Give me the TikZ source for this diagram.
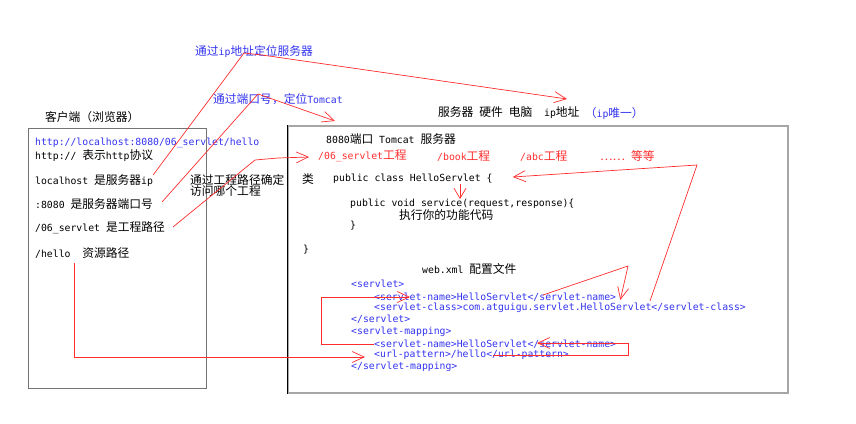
\documentclass[tikz,border=0pt]{standalone}
\usepackage{fontspec}
\setmonofont{DejaVu Sans Mono}
\newfontfamily\zhfont[Scale=1.2]{Noto Sans CJK SC}
\newcommand\zh[1]{{\zhfont #1}}
\usepackage{xcolor}
\usepackage{tikz}
\usetikzlibrary{arrows.meta, positioning}

\definecolor{linkblue}{RGB}{50,50,240}
\definecolor{markred}{RGB}{255,45,45}

\begin{document}
\begin{tikzpicture}[
    x=1pt, y=-1pt,
    font=\ttfamily\fontsize{9.8}{11.8}\selectfont,
    % Text line styling
    txt/.style={anchor=west, inner sep=0pt, text=black},
    blu/.style={txt, text=linkblue},
    rtxt/.style={txt, text=markred},
    % Frame styling
    panel/.style={draw=black!55, line width=1.2pt, anchor=north west, inner sep=0pt},
    % Red pointer styling
    pointer/.style={draw=markred, line width=0.7pt, -{Straight Barb[length=12pt,width=11pt]}},
    shortpointer/.style={pointer, -{Straight Barb[length=10pt,width=12pt]}}
]
\useasboundingbox (0,0) rectangle (856,423);

% ---------------------------------------------------
% 1. FRAMES
% ---------------------------------------------------
\node[panel, minimum width=178pt, minimum height=260pt] (client) at (28,128) {};
\node[panel, draw=black!35, line width=1.6pt, minimum width=500pt, minimum height=267pt] (server) at (287,125) {};
\draw[black, line width=0.8pt] (server.north west) -- (server.south west);

% ---------------------------------------------------
% 2. TEXTS (pixel grid, y grows downwards)
% ---------------------------------------------------

% Notes above
\node[txt] (clienttitle) at (45,117) {\zh{客户端（浏览器）}};
\node[blu] (ipnote) at (195,52) {\zh{通过}ip\zh{地址定位服务器}};
\node[blu] (portnote) at (213,99) {\zh{通过端口号，定位}Tomcat};
\node[txt] (hw) at (438,113) {\zh{服务器} \zh{硬件} \zh{电脑}\ \ ip\zh{地址}};
\node[blu, right=5pt of hw] (ipuniq) {\zh{（}ip\zh{唯一）}};

% Browser side
\node[blu] (url) at (35,143) {http://localhost:8080/06\_servlet/hello};
\node[txt] (proto) at (35,156) {http:// \zh{表示}http\zh{协议}};
\node[txt] (lhost) at (35,181) {localhost \zh{是服务器}ip};
\node[txt] (port) at (35,204) {:8080 \zh{是服务器端口号}};
\node[txt] (path) at (35,228) {/06\_servlet \zh{是工程路径}};
\node[txt] (hello) at (35,253) {/hello\ \ \zh{资源路径}};
\node[txt, align=left, font=\ttfamily\fontsize{9.8}{11}\selectfont] (projnote) at (190,185) {\zh{通过工程路径确定}\\\zh{访问哪个工程}};

% Server side
\node[txt] (tomcat) at (326,139) {8080\zh{端口} Tomcat \zh{服务器}};
\node[rtxt] (proj06) at (318,156) {/06\_servlet\zh{工程}};
\node[rtxt] (book) at (437,156) {/book\zh{工程}};
\node[rtxt] (abc) at (520,156) {/abc\zh{工程}};
\node[rtxt] (others) at (600,156) {\zh{……} \zh{等等}};

\node[txt] (clslabel) at (302,179) {\zh{类}};
\node[txt] (cls) at (333,179) {public class HelloServlet \{};
\node[txt] (svc) at (350,204) {public void service(request,response)\{};
\node[txt] (exec) at (399,215) {\zh{执行你的功能代码}};
\node[txt] (svcend) at (350,226) {\}};
\node[txt] (clsend) at (303,250) {\}};

\node[txt] (webxml) at (422,269) {web.xml \zh{配置文件}};
\node[blu] (servlet) at (351,284) {<servlet>};
\node[blu] (sname) at (374,297) {<servlet-name>HelloServlet</servlet-name>};
\node[blu] (sclass) at (374,308) {<servlet-class>com.atguigu.servlet.HelloServlet</servlet-class>};
\node[blu] (servletend) at (351,319) {</servlet>};
\node[blu] (mapping) at (351,332) {<servlet-mapping>};
\node[blu] (mapname) at (374,344) {<servlet-name>HelloServlet</servlet-name>};
\node[blu] (urlpat) at (374,355) {<url-pattern>/hello</url-pattern>};
\node[blu] (mappingend) at (351,367) {</servlet-mapping>};

% ---------------------------------------------------
% 3. RED POINTERS
% ---------------------------------------------------
\coordinate (ipbend) at (244,53);
\coordinate (ipbend2) at (262,55);
\coordinate (portbend) at (258,94);
\coordinate (pathbend) at (255,160);
\coordinate (pathbend2) at (278,158);
\coordinate (namebend) at (628,266);
\coordinate (classbend) at (697,165);
\coordinate (urlbend) at (628,355);

% ip -> server machine
\draw[pointer] (lhost.north east) -- (ipbend) -- (ipbend2) -- ([xshift=129pt,yshift=14pt]hw.west);

% port -> Tomcat
\draw[pointer] ([xshift=127pt,yshift=2pt]port.west) -- (portbend) -- ([xshift=48pt,yshift=4pt]server.north west);

% project path -> project
\draw[pointer] ([xshift=138pt,yshift=1pt]path.west) -- (pathbend) -- (pathbend2) -- ([xshift=-9pt,yshift=-1pt]proj06.west);

% resource path -> url-pattern
\draw[pointer] ([xshift=39pt,yshift=-10pt]hello.west) |- ([xshift=-9pt,yshift=-2pt]urlpat.west);

% url-pattern -> servlet-name (mapping)
\draw[pointer] ([xshift=119pt]urlpat.west) -- (urlbend) |- ([xshift=163pt,yshift=1pt]mapname.west);

% servlet-name (mapping) -> servlet-name (servlet)
\draw[pointer] (mapname.west) -- ++(-53,0) |- ([xshift=36pt]sname.west);

% servlet-name -> servlet-class
\draw[pointer] ([xshift=169pt,yshift=2pt]sname.west) -- (namebend) -- ([xshift=4pt,yshift=-3pt]sname.east);

% servlet-class -> class
\draw[pointer] ([xshift=276pt,yshift=7pt]sclass.west) -- (classbend) -- ([xshift=20pt,yshift=2pt]cls.east);

% class -> service
\draw[shortpointer] ([xshift=127pt,yshift=-5pt]cls.west) -- ([xshift=110pt,yshift=5pt]svc.west);

\end{tikzpicture}
\end{document}
